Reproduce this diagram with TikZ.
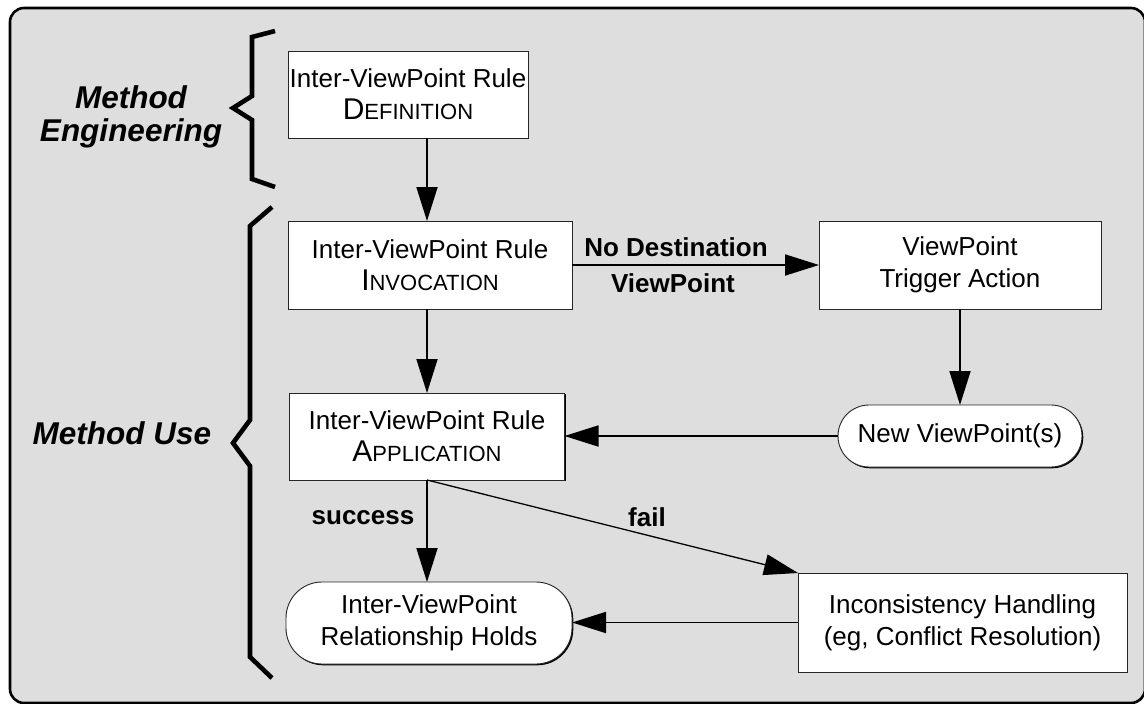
\documentclass[tikz,border=0pt]{standalone}
\usepackage{fontspec}
\setmainfont{Liberation Sans}
\usetikzlibrary{arrows.meta,shadows}
\definecolor{bg}{RGB}{222,222,222}
\newcommand\scapword[2]{{\fontsize{30}{32}\selectfont #1}{\fontsize{22}{32}\selectfont #2}}
\tikzset{
  every node/.style={inner sep=0pt, outer sep=0pt},
  boxnode/.style={draw=black!85, line width=0.9pt, fill=white, align=center,
    font=\fontsize{26}{32}\selectfont,
    drop shadow={shadow xshift=1.3pt, shadow yshift=-1.3pt, fill=black, opacity=1}},
  roundnode/.style={boxnode},
  arr/.style={line width=1.8pt, -{Triangle[length=34pt,width=21pt]}},
  lbl/.style={font=\fontsize{26}{30}\selectfont\bfseries},
  grouplbl/.style={font=\fontsize{31.5}{33}\selectfont\bfseries\itshape, align=center},
  bracestroke/.style={line width=4.6pt, miter limit=10},
}
\begin{document}
\begin{tikzpicture}[x=1pt,y=-1pt]
\useasboundingbox (0,0) rectangle (1144,704);
\draw[line width=2.6pt, fill=bg, rounded corners=14pt] (10,8) rectangle (1145,703);

% group labels and braces
\node[grouplbl] (me) at (131,117) {Method\\Engineering};
\node[grouplbl] (mu) at (122,433) {Method Use};
\draw[bracestroke] (275,31) -- (252,37) -- (252,96) -- (233,108) -- (252,120) -- (252,179) -- (275,187);
\draw[bracestroke] (272,207) -- (250,226) -- (250,420) -- (233,443) -- (250,466) -- (250,657) -- (272,678);

% nodes
\node[boxnode, minimum width=240pt, minimum height=87pt] (def) at (408,94.5)
  {Inter-ViewPoint Rule\\\scapword{D}{EFINITION}};
\node[boxnode, minimum width=284pt, minimum height=88pt] (inv) at (430,265)
  {Inter-ViewPoint Rule\\\scapword{I}{NVOCATION}};
\node[boxnode, minimum width=275pt, minimum height=87pt] (app) at (427,436.5)
  {Inter-ViewPoint Rule\\\scapword{A}{PPLICATION}};
\node[boxnode, minimum width=282pt, minimum height=88pt] (trig) at (960,265)
  {ViewPoint\\Trigger Action};
\node[roundnode, rounded corners=31pt, minimum width=244pt, minimum height=62pt] (newvp) at (960,436)
  {New ViewPoint(s)};
\node[roundnode, rounded corners=36pt, minimum width=286pt, minimum height=82pt] (holds) at (429,623)
  {Inter-ViewPoint\\Relationship Holds};
\node[boxnode, minimum width=329pt, minimum height=99pt] (inc) at (962.5,622.5)
  {Inconsistency Handling\\(eg, Conflict Resolution)};

% connectors
\coordinate (defout) at (def.south -| app.north);
\draw[arr] (defout) -- (defout |- inv.north);
\coordinate (invout) at (inv.south -| app.north);
\draw[arr] (invout) -- (app.north);
\draw[arr] (inv.east) -- (inv.east -| trig.west);
\draw[arr] (trig.south) -- (newvp.north);
\draw[arr] (newvp.west) -- (newvp.west -| app.east);
\draw[arr] (app.south) -- (holds.north -| app.south);
\draw[arr, line width=1.3pt] (app.south) -- (inc.north west);
\draw[arr] (inc.west) -- (inc.west -| holds.east);

% labels
\node[lbl] (nd) at (676,247) {No Destination};
\node[lbl] (vp) at (673,283) {ViewPoint};
\node[lbl] (succ) at (363,518) {success};
\node[lbl] (fail) at (647,517) {fail};
\end{tikzpicture}
\end{document}
